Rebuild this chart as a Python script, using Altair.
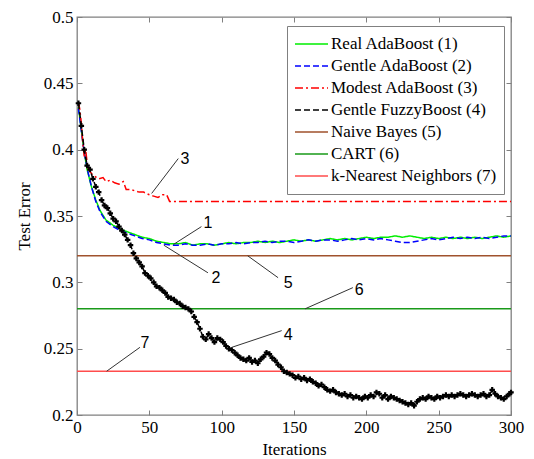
import altair as alt
import pandas as pd

names = ["Real AdaBoost (1)", "Gentle AdaBoost (2)", "Modest AdaBoost (3)",
         "Gentle FuzzyBoost (4)", "Naive Bayes (5)", "CART (6)", "k-Nearest Neighbors (7)"]
colors = ["#00ee00", "#0000ff", "#ff0000", "#000000", "#a0522d", "#1a9a1a", "#ff4d4d"]
dashes = [[1, 0], [6, 3], [8, 3, 2, 3], [6, 3], [1, 0], [1, 0], [1, 0]]
widths = [1.5, 1.5, 1.5, 1.0, 2.0, 1.5, 2.5]

# Real AdaBoost (1)
real_it = [1, 3, 5, 7, 10, 13, 16, 20, 25, 30, 35, 40, 45, 50, 55, 60, 65, 70, 75, 80, 85, 90,
           95, 100, 105, 110, 115, 120, 125, 130, 135, 140, 145, 150, 155, 160, 165, 170, 175,
           180, 185, 190, 195, 200, 205, 210, 215, 220, 225, 230, 235, 240, 245, 250, 255, 260,
           265, 270, 275, 280, 285, 290, 295, 300]
real_val = [0.432, 0.415, 0.398, 0.385, 0.372, 0.362, 0.354, 0.347, 0.343, 0.340, 0.338, 0.336,
            0.334, 0.333, 0.331, 0.330, 0.329, 0.329, 0.330, 0.328, 0.329, 0.329, 0.328, 0.329,
            0.330, 0.329, 0.330, 0.330, 0.331, 0.330, 0.331, 0.330, 0.331, 0.332, 0.331, 0.332,
            0.331, 0.332, 0.333, 0.332, 0.333, 0.332, 0.333, 0.334, 0.333, 0.334, 0.334, 0.335,
            0.334, 0.335, 0.334, 0.333, 0.334, 0.333, 0.334, 0.333, 0.334, 0.333, 0.334, 0.333,
            0.334, 0.335, 0.334, 0.335]

# Gentle AdaBoost (2)
gentle_it = real_it
gentle_val = [0.431, 0.414, 0.398, 0.386, 0.372, 0.361, 0.353, 0.346, 0.342, 0.339, 0.337, 0.335,
              0.333, 0.332, 0.330, 0.329, 0.328, 0.328, 0.329, 0.328, 0.328, 0.329, 0.328, 0.329,
              0.329, 0.330, 0.329, 0.330, 0.330, 0.331, 0.330, 0.331, 0.331, 0.330, 0.331, 0.332,
              0.331, 0.332, 0.332, 0.331, 0.332, 0.333, 0.332, 0.333, 0.332, 0.333, 0.332, 0.331,
              0.330, 0.330, 0.331, 0.332, 0.333, 0.332, 0.333, 0.334, 0.333, 0.334, 0.333, 0.334,
              0.333, 0.334, 0.335, 0.335]

# Modest AdaBoost (3)
modest_it = [1, 2, 3, 4, 5, 6, 7, 8, 10, 12, 15, 18, 20, 23, 26, 29, 32, 34, 37, 40, 43, 46,
             50, 53, 56, 59, 62, 64, 70, 100, 150, 200, 250, 300]
modest_val = [0.436, 0.430, 0.420, 0.405, 0.395, 0.400, 0.390, 0.385, 0.382, 0.380, 0.378, 0.379,
              0.376, 0.377, 0.375, 0.374, 0.376, 0.370, 0.370, 0.369, 0.368, 0.368, 0.366, 0.365,
              0.364, 0.366, 0.366, 0.361, 0.361, 0.361, 0.361, 0.361, 0.361, 0.361]

# Gentle FuzzyBoost (4)
fuzzy_it = list(range(1, 300, 2)) + [300]
fuzzy_val = [0.435, 0.418, 0.400, 0.388, 0.385, 0.378, 0.372, 0.368, 0.362, 0.358,
             0.356, 0.352, 0.348, 0.346, 0.342, 0.339, 0.336, 0.332, 0.328, 0.322,
             0.318, 0.315, 0.312, 0.307, 0.305, 0.303, 0.300, 0.297, 0.296, 0.294,
             0.292, 0.289, 0.288, 0.287, 0.285, 0.284, 0.282, 0.281, 0.280, 0.278,
             0.274, 0.270, 0.265, 0.259, 0.257, 0.261, 0.258, 0.255, 0.258, 0.257,
             0.255, 0.252, 0.250, 0.249, 0.247, 0.245, 0.243, 0.242, 0.241, 0.243,
             0.240, 0.241, 0.239, 0.242, 0.244, 0.247, 0.246, 0.243, 0.241, 0.238,
             0.236, 0.233, 0.232, 0.231, 0.230, 0.228, 0.229, 0.227, 0.228, 0.226,
             0.227, 0.225, 0.224, 0.222, 0.223, 0.221, 0.219, 0.218, 0.219, 0.217,
             0.216, 0.215, 0.216, 0.214, 0.215, 0.213, 0.214, 0.213, 0.212, 0.214,
             0.213, 0.215, 0.214, 0.217, 0.216, 0.213, 0.215, 0.212, 0.214, 0.213,
             0.212, 0.211, 0.210, 0.209, 0.208, 0.209, 0.207, 0.210, 0.212, 0.213,
             0.212, 0.214, 0.213, 0.212, 0.214, 0.213, 0.214, 0.215, 0.214, 0.215,
             0.214, 0.215, 0.216, 0.215, 0.214, 0.215, 0.216, 0.215, 0.214, 0.215,
             0.216, 0.214, 0.215, 0.219, 0.216, 0.214, 0.213, 0.212, 0.214, 0.216,
             0.217]

# Baselines (5)-(7)
naive_val = 0.320
cart_val = 0.280
knn_val = 0.233
baseline_it = [0, 300]

x_ticks = [0, 50, 100, 150, 200, 250, 300]
y_ticks = [0.2, 0.25, 0.3, 0.35, 0.4, 0.45, 0.5]

# annotations (label, line start, line end, text position) in data units
ann_label = ["3", "1", "2", "5", "6", "4", "7"]
ann_x1 = [51.6, 66.6, 60.0, 118.0, 157.6, 107.0, 20.5]
ann_y1 = [0.367, 0.3285, 0.328, 0.320, 0.280, 0.251, 0.233]
ann_x2 = [70.0, 86.0, 90.5, 139.0, 190.7, 141.5, 43.5]
ann_y2 = [0.3933, 0.342, 0.3072, 0.3035, 0.296, 0.2636, 0.251]
ann_tx = [74.6, 90.5, 96.0, 146.0, 195.0, 146.0, 47.0]
ann_ty = [0.393, 0.345, 0.303, 0.2995, 0.294, 0.2600, 0.254]

rows = []
for it, v in zip(real_it, real_val):
    rows.append({"series": names[0], "iteration": it, "value": v})
for it, v in zip(gentle_it, gentle_val):
    rows.append({"series": names[1], "iteration": it, "value": v})
for it, v in zip(modest_it, modest_val):
    rows.append({"series": names[2], "iteration": it, "value": v})
for it, v in zip(fuzzy_it, fuzzy_val):
    rows.append({"series": names[3], "iteration": it, "value": v})
for name, v in zip(names[4:], [naive_val, cart_val, knn_val]):
    for it in baseline_it:
        rows.append({"series": name, "iteration": it, "value": v})
df = pd.DataFrame(rows)
fuzzy_df = pd.DataFrame({"iteration": fuzzy_it, "value": fuzzy_val})
ann_df = pd.DataFrame({"label": ann_label, "x1": ann_x1, "y1": ann_y1, "x2": ann_x2,
                       "y2": ann_y2, "tx": ann_tx, "ty": ann_ty})

serif = "Liberation Serif"
xscale = alt.Scale(domain=[0, 300], nice=False)
yscale = alt.Scale(domain=[0.2, 0.5], nice=False, zero=False)

axis_common = dict(domain=False, offset=-5, tickSize=5, tickColor="#808080",
                   grid=False, labelFont=serif, labelFontSize=17, labelColor="#000",
                   labelFlush=False, labelOverlap=False,
                   titleFont=serif, titleFontSize=17, titleFontWeight="normal",
                   titleColor="#000")

legend_common = dict(title=None, labelFont=serif, labelFontSize=17, labelColor="#000",
                     orient="none", legendX=210, legendY=9,
                     fillColor="#ffffff", strokeColor="#808080", padding=7,
                     symbolType="stroke", symbolSize=1089, symbolStrokeWidth=1.5,
                     clipHeight=21.8, rowPadding=0, labelOffset=2, labelLimit=300)

lines = alt.Chart(df).mark_line().encode(
    x=alt.X("iteration:Q", scale=xscale,
            axis=alt.Axis(title="Iterations", values=x_ticks, format="d",
                          labelPadding=4, titlePadding=6, **axis_common)),
    y=alt.Y("value:Q", scale=yscale,
            axis=alt.Axis(title="Test Error", values=y_ticks, format="~g",
                          labelPadding=4, titlePadding=10, **axis_common)),
    color=alt.Color("series:N", sort=names,
                    scale=alt.Scale(domain=names, range=colors),
                    legend=alt.Legend(**legend_common)),
    strokeDash=alt.StrokeDash("series:N", sort=names,
                              scale=alt.Scale(domain=names, range=dashes),
                              legend=alt.Legend(**legend_common)),
    strokeWidth=alt.StrokeWidth("series:N", scale=alt.Scale(domain=names, range=widths),
                                legend=None),
)

points = alt.Chart(fuzzy_df).mark_point(shape="cross", filled=True, size=30,
                                         color="#000", opacity=1).encode(
    x=alt.X("iteration:Q", scale=xscale, axis=None),
    y=alt.Y("value:Q", scale=yscale, axis=None),
)

ann_lines = alt.Chart(ann_df).mark_rule(color="#333333", strokeWidth=1).encode(
    x=alt.X("x1:Q", scale=xscale, axis=None),
    y=alt.Y("y1:Q", scale=yscale, axis=None),
    x2="x2:Q",
    y2="y2:Q",
)

ann_text = alt.Chart(ann_df).mark_text(font="Liberation Sans", fontSize=16,
                                        color="#000").encode(
    x=alt.X("tx:Q", scale=xscale, axis=None),
    y=alt.Y("ty:Q", scale=yscale, axis=None),
    text="label:N",
)

mirror = alt.Chart(df).mark_point(opacity=0).encode(
    x=alt.X("iteration:Q", scale=xscale,
            axis=alt.Axis(orient="top", values=x_ticks, labels=False, title=None,
                          domain=False, offset=-5, tickSize=5, tickColor="#808080", grid=False)),
    y=alt.Y("value:Q", scale=yscale,
            axis=alt.Axis(orient="right", values=y_ticks, labels=False, title=None,
                          domain=False, offset=-5, tickSize=5, tickColor="#808080", grid=False)),
)

chart = alt.layer(lines, points, ann_lines, ann_text, mirror).resolve_axis(
    x="independent", y="independent"
).properties(
    width=434, height=398,
    autosize=alt.AutoSizeParams(type="none"),
    padding={"left": 69, "top": 9, "right": 15, "bottom": 44},
).configure(
    font=serif
).configure_view(
    stroke="#808080", strokeWidth=1.3
)

chart.save("out.html", embed_options={"renderer": "svg", "actions": False})
